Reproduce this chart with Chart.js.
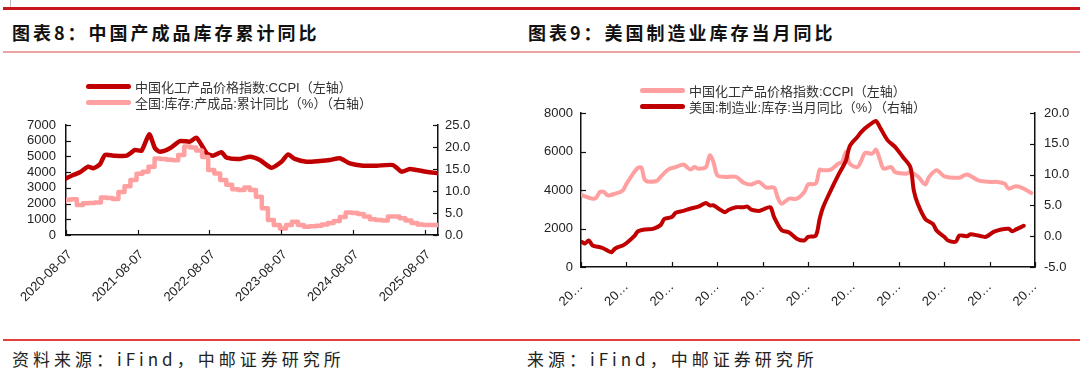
<!DOCTYPE html>
<html lang="zh-CN">
<head>
<meta charset="UTF-8">
<title>产成品库存 / 美国制造业库存</title>
<script src="https://cdn.jsdelivr.net/npm/chart.js"></script>
<style>
  body { margin: 0; width: 1080px; height: 380px; background: #fff; position: relative; overflow: hidden;
         font-family: "Noto Sans CJK SC", sans-serif; }
  .abs { position: absolute; }
  .rule-top { left: 3px; right: 0; top: 7px; height: 3px; background: #c8161d; }
  .rule-pink { left: 3px; right: 0; top: 51px; height: 2px; background: #eba3a3; }
  .rule-bottom { left: 3px; right: 0; top: 339px; height: 2px; background: #e2403f; }
  .title { top: 22px; font-size: 18px; line-height: 20px; font-weight: 700; letter-spacing: 3px; color: #111; white-space: nowrap; }
  .source { top: 349px; font-size: 17px; line-height: 20px; letter-spacing: 4px; color: #222; white-space: nowrap; }
  .legend { font-family: "Liberation Sans", "Noto Sans CJK SC", sans-serif; font-size: 13px; color: #333; }
  .leg-row { display: flex; align-items: center; height: 15.5px; white-space: nowrap; }
  .leg-line { display: inline-block; width: 45px; height: 5px; border-radius: 3px; margin-right: 4px; }
</style>
</head>
<body>
  <div class="abs" style="left:10px;top:0;width:1px;height:7px;background:#bbb"></div>
  <div class="abs rule-top"></div>
  <div class="abs title" style="left:12px">图表8：中国产成品库存累计同比</div>
  <div class="abs title" style="left:528px">图表9：美国制造业库存当月同比</div>
  <div class="abs rule-pink"></div>

  <canvas id="leftChart" class="abs" width="530" height="280" style="left:0;top:55px"></canvas>
  <canvas id="rightChart" class="abs" width="550" height="280" style="left:530px;top:55px"></canvas>
  <div id="leftLegend" class="abs legend" style="left:86px;top:79px"></div>
  <div id="rightLegend" class="abs legend" style="left:640px;top:83px"></div>

  <div class="abs rule-bottom"></div>
  <div class="abs source" style="left:12px">资料来源：iFind，中邮证券研究所</div>
  <div class="abs source" style="left:527px">来源：iFind，中邮证券研究所</div>

<script>
// ---------- 图表8 ----------
const leftTickLabels = ['2020-08-07', '2021-08-07', '2022-08-07', '2023-08-07', '2024-08-07', '2025-08-07'];
const leftAxisEnd = '2025-10-14';

// 中国化工产品价格指数 CCPI (左轴)
const ccpiDates = ['2020-08-07', '2020-09-13', '2020-10-17', '2020-11-28', '2020-12-24', '2021-01-27',
  '2021-02-21', '2021-04-05', '2021-06-12', '2021-07-24', '2021-08-27', '2021-10-05', '2021-11-03',
  '2021-11-28', '2022-01-18', '2022-03-10', '2022-04-30', '2022-06-03', '2022-07-24', '2022-08-26',
  '2022-10-08', '2022-11-03', '2023-01-09', '2023-03-01', '2023-04-21', '2023-06-19', '2023-08-09',
  '2023-09-12', '2023-10-16', '2023-12-14', '2024-02-20', '2024-04-11', '2024-06-01', '2024-07-22',
  '2024-09-27', '2024-12-05', '2025-02-27', '2025-04-11', '2025-05-23', '2025-06-26', '2025-08-16',
  '2025-10-14'];
const ccpiValues = [3600, 3820, 3990, 4350, 4240, 4500,
  5090, 5050, 5050, 5410, 5370, 6410, 5520,
  5300, 5520, 5980, 5940, 6190, 5200, 5050,
  5260, 4920, 4840, 4980, 4770, 4280, 4660,
  5130, 4840, 4660, 4710, 4770, 4880, 4560,
  4410, 4410, 4450, 4030, 4200, 4140, 4030,
  3930];

// 全国:库存:产成品:累计同比 % (右轴), 月度
const invMonths = ['2020-08', '2020-09', '2020-10', '2020-11', '2020-12', '2021-01', '2021-02', '2021-03',
  '2021-04', '2021-05', '2021-06', '2021-07', '2021-08', '2021-09', '2021-10', '2021-11', '2021-12',
  '2022-01', '2022-02', '2022-03', '2022-04', '2022-05', '2022-06', '2022-07', '2022-08', '2022-09',
  '2022-10', '2022-11', '2022-12', '2023-01', '2023-02', '2023-03', '2023-04', '2023-05', '2023-06',
  '2023-07', '2023-08', '2023-09', '2023-10', '2023-11', '2023-12', '2024-01', '2024-02', '2024-03',
  '2024-04', '2024-05', '2024-06', '2024-07', '2024-08', '2024-09', '2024-10', '2024-11', '2024-12',
  '2025-01', '2025-02', '2025-03', '2025-04', '2025-05', '2025-06', '2025-07', '2025-08', '2025-09',
  '2025-10-14'];
const invValues = [7.4, 8.0, 8.1, 6.8, 7.2, 7.3, 7.4, 8.5,
  8.4, 8.2, 9.8, 11.1, 12.5, 13.9, 14.4, 15.5, 17.4,
  17.3, 17.1, 17.0, 18.2, 20.1, 19.9, 19.2, 17.7, 14.8,
  14.0, 12.5, 11.4, 10.4, 10.2, 10.8, 10.2, 8.7, 6.1,
  3.4, 2.3, 1.5, 2.3, 3.0, 2.3, 1.9, 2.0, 2.1,
  2.4, 2.7, 3.2, 4.1, 5.1, 5.0, 4.8, 4.2, 3.6,
  3.4, 3.3, 4.2, 4.2, 3.8, 3.3, 2.7, 2.4, 2.3,
  2.3];

// ---------- 图表9 ----------
const rightTickLabels = ['2015-10-31', '2016-10-31', '2017-10-31', '2018-10-31', '2019-10-31', '2020-10-31',
  '2021-10-31', '2022-10-31', '2023-10-31', '2024-10-31', '2025-10-31'];

// 中国化工产品价格指数 CCPI (左轴)
const ccpiMonths = ['2015-10', '2015-12', '2016-02', '2016-03', '2016-04', '2016-05', '2016-06', '2016-08',
  '2016-10', '2016-11', '2017-01', '2017-02', '2017-03', '2017-04', '2017-07', '2017-08', '2017-10',
  '2017-12', '2018-02', '2018-03', '2018-04', '2018-05', '2018-06', '2018-08', '2018-09', '2018-10',
  '2018-11', '2019-01', '2019-04', '2019-06', '2019-08', '2019-10', '2019-12', '2020-02', '2020-03',
  '2020-04', '2020-06', '2020-08', '2020-10', '2020-11', '2021-01', '2021-02', '2021-03', '2021-05',
  '2021-07', '2021-08', '2021-09', '2021-10', '2021-12', '2022-01', '2022-02', '2022-04', '2022-05',
  '2022-06', '2022-07', '2022-09', '2022-10', '2023-01', '2023-02', '2023-04', '2023-06', '2023-07',
  '2023-09', '2023-11', '2024-03', '2024-05', '2024-08', '2024-11', '2025-01', '2025-03', '2025-04',
  '2025-06', '2025-08', '2025-10'];
const ccpiMonthly = [3840, 3670, 3550, 3600, 3900, 3900, 3720, 3810,
  3980, 4330, 4930, 5160, 5160, 4500, 4470, 4680, 5060,
  5190, 5330, 5190, 5060, 5190, 5110, 5190, 5800, 5450,
  4760, 4680, 4680, 4380, 4290, 4420, 4120, 4120, 3600,
  3290, 3550, 3550, 3900, 4290, 4330, 5060, 5020, 5060,
  5370, 5450, 5970, 5370, 5190, 5510, 5920, 5890, 6100,
  5580, 5110, 5190, 4930, 4850, 4930, 4710, 4290, 4680,
  5020, 4710, 4640, 4810, 4500, 4420, 4420, 4330, 4070,
  4190, 4070, 3840];

// 美国:制造业:库存:当月同比 % (右轴)
const usInvMonths = ['2015-10', '2015-11', '2015-12', '2016-01', '2016-02', '2016-04', '2016-05', '2016-07',
  '2016-08', '2016-10', '2016-11', '2017-01', '2017-02', '2017-04', '2017-06', '2017-08', '2017-09',
  '2017-11', '2017-12', '2018-02', '2018-04', '2018-06', '2018-08', '2018-09', '2018-10', '2019-01',
  '2019-02', '2019-04', '2019-06', '2019-07', '2019-08', '2019-10', '2019-11', '2020-01', '2020-02',
  '2020-04', '2020-06', '2020-08', '2020-10', '2020-11', '2021-01', '2021-02', '2021-03', '2021-05',
  '2021-07', '2021-09', '2021-10', '2021-12', '2022-01', '2022-02', '2022-04', '2022-05', '2022-06',
  '2022-08', '2022-10', '2022-12', '2023-02', '2023-03', '2023-04', '2023-06', '2023-08', '2023-09',
  '2023-11', '2023-12', '2024-02', '2024-03', '2024-05', '2024-06', '2024-08', '2024-10', '2024-12',
  '2025-02', '2025-04', '2025-05', '2025-06', '2025-08'];
const usInvValues = [-1.2, -0.9, -1.2, -0.7, -1.5, -1.8, -2.0, -2.6,
  -2.0, -1.5, -1.1, 0.0, 0.8, 1.1, 1.2, 1.8, 2.8,
  3.1, 3.8, 4.1, 4.5, 4.8, 5.4, 5.0, 5.0, 3.9,
  4.3, 4.7, 4.7, 4.8, 4.3, 4.1, 4.3, 4.7, 3.1,
  1.0, 0.6, -0.4, -0.7, -0.1, 0.1, 2.8, 4.7, 7.4,
  9.9, 12.3, 14.6, 16.1, 16.9, 17.5, 18.4, 18.7, 17.7,
  15.6, 14.5, 12.9, 11.2, 7.4, 5.3, 2.8, 2.0, 0.9,
  -0.1, -0.7, -0.9, 0.1, 0.0, 0.3, 0.1, -0.1, 0.7,
  1.1, 1.2, 0.8, 1.1, 1.7];

const DARK_RED = '#c00000';
const PINK = '#ff9f9f';

function ts(d) {
  const p = d.split('-').map(Number);
  return Date.UTC(p[0], p[1] - 1, p[2] || 1);
}
function pairs(dates, values) {
  return dates.map((d, i) => ({ x: ts(d), y: values[i] }));
}

// ticks pointing into the plot, like the original
const innerTicks = {
  id: 'innerTicks',
  afterDraw(chart) {
    const { ctx, chartArea: a } = chart;
    ctx.save();
    ctx.strokeStyle = '#111';
    ctx.lineWidth = 1.2;
    Object.values(chart.scales).forEach(s => {
      s.ticks.forEach(t => {
        const p = Math.round(s.getPixelForValue(t.value)) + 0.5;
        ctx.beginPath();
        if (s.axis === 'x') { ctx.moveTo(p, a.bottom); ctx.lineTo(p, a.bottom - 5); }
        else if (s.position === 'left') { ctx.moveTo(a.left, p); ctx.lineTo(a.left + 5, p); }
        else { ctx.moveTo(a.right, p); ctx.lineTo(a.right - 5, p); }
        ctx.stroke();
      });
    });
    ctx.restore();
  }
};

const tickFont = { family: 'Liberation Sans', size: 13 };
const axisBorder = { color: '#111', width: 1.5 };

function yScale(pos, min, max, step, width, pad, decimals) {
  return {
    position: pos, min: min, max: max,
    ticks: { stepSize: step, autoSkip: false, padding: pad, color: '#222', font: tickFont,
             callback: v => decimals ? v.toFixed(1) : v },
    grid: { display: false, drawTicks: false },
    border: axisBorder,
    afterFit: s => { s.width = width; }
  };
}

function xScale(tickLabels, endDate, height, pad, shift, fmt) {
  return {
    type: 'linear',
    min: ts(tickLabels[0]), max: ts(endDate),
    afterBuildTicks: s => { s.ticks = tickLabels.map(d => ({ value: ts(d) })); },
    ticks: { autoSkip: false, minRotation: 45, maxRotation: 45, padding: pad, labelOffset: shift,
             color: '#222', font: { family: 'Liberation Sans', size: 13 },
             callback: (v, i) => fmt(tickLabels[i]) },
    grid: { display: false, drawTicks: false },
    border: axisBorder,
    afterFit: s => { s.height = height; }
  };
}

function lineSet(label, data, color, axis, order, extra) {
  return Object.assign({
    label: label, data: data, yAxisID: axis, order: order,
    borderColor: color, backgroundColor: color, borderWidth: 4.5,
    pointRadius: 0, tension: 0.2, borderJoinStyle: 'round', borderCapStyle: 'round'
  }, extra || {});
}

const baseOptions = {
  responsive: false,
  animation: false,
  plugins: { legend: { display: false }, tooltip: { enabled: false } }
};

const leftChart = new Chart(document.getElementById('leftChart'), {
  type: 'line',
  data: {
    datasets: [
      lineSet('中国化工产品价格指数:CCPI（左轴）', pairs(ccpiDates, ccpiValues), DARK_RED, 'y', 1),
      lineSet('全国:库存:产成品:累计同比（%）（右轴）', pairs(invMonths, invValues), PINK, 'y1', 0,
              { stepped: 'after', tension: 0 })
    ]
  },
  options: Object.assign({}, baseOptions, {
    layout: { padding: { top: 70, left: 0, right: 0, bottom: 0 } },
    scales: {
      x: xScale(leftTickLabels, leftAxisEnd, 100, 12, 4, s => s),
      y: yScale('left', 0, 7000, 1000, 66, 10, false),
      y1: yScale('right', 0, 25, 5, 92, 7, true)
    }
  }),
  plugins: [innerTicks]
});

const rightChart = new Chart(document.getElementById('rightChart'), {
  type: 'line',
  data: {
    datasets: [
      lineSet('中国化工产品价格指数:CCPI（左轴）', pairs(ccpiMonths, ccpiMonthly), PINK, 'y', 1,
              { borderWidth: 4, tension: 0.3 }),
      lineSet('美国:制造业:库存:当月同比（%）（右轴）', pairs(usInvMonths, usInvValues), DARK_RED, 'y1', 0,
              { borderWidth: 4, tension: 0.3 })
    ]
  },
  options: Object.assign({}, baseOptions, {
    layout: { padding: { top: 58, left: 0, right: 0, bottom: 0 } },
    scales: {
      x: xScale(rightTickLabels, rightTickLabels[rightTickLabels.length - 1], 68, 12, 0, s => s.slice(0, 2) + '…'),
      y: yScale('left', 0, 8000, 2000, 51, 8, false),
      y1: yScale('right', -5, 20, 5, 45, 9, true)
    }
  }),
  plugins: [innerTicks]
});

// legend rows built from the chart's own datasets
function buildLegend(chart, box) {
  chart.data.datasets.forEach(ds => {
    const row = document.createElement('div');
    row.className = 'leg-row';
    const swatch = document.createElement('span');
    swatch.className = 'leg-line';
    swatch.style.background = ds.borderColor;
    const txt = document.createElement('span');
    txt.textContent = ds.label;
    row.append(swatch, txt);
    box.appendChild(row);
  });
}
buildLegend(leftChart, document.getElementById('leftLegend'));
buildLegend(rightChart, document.getElementById('rightLegend'));
</script>
</body>
</html>
